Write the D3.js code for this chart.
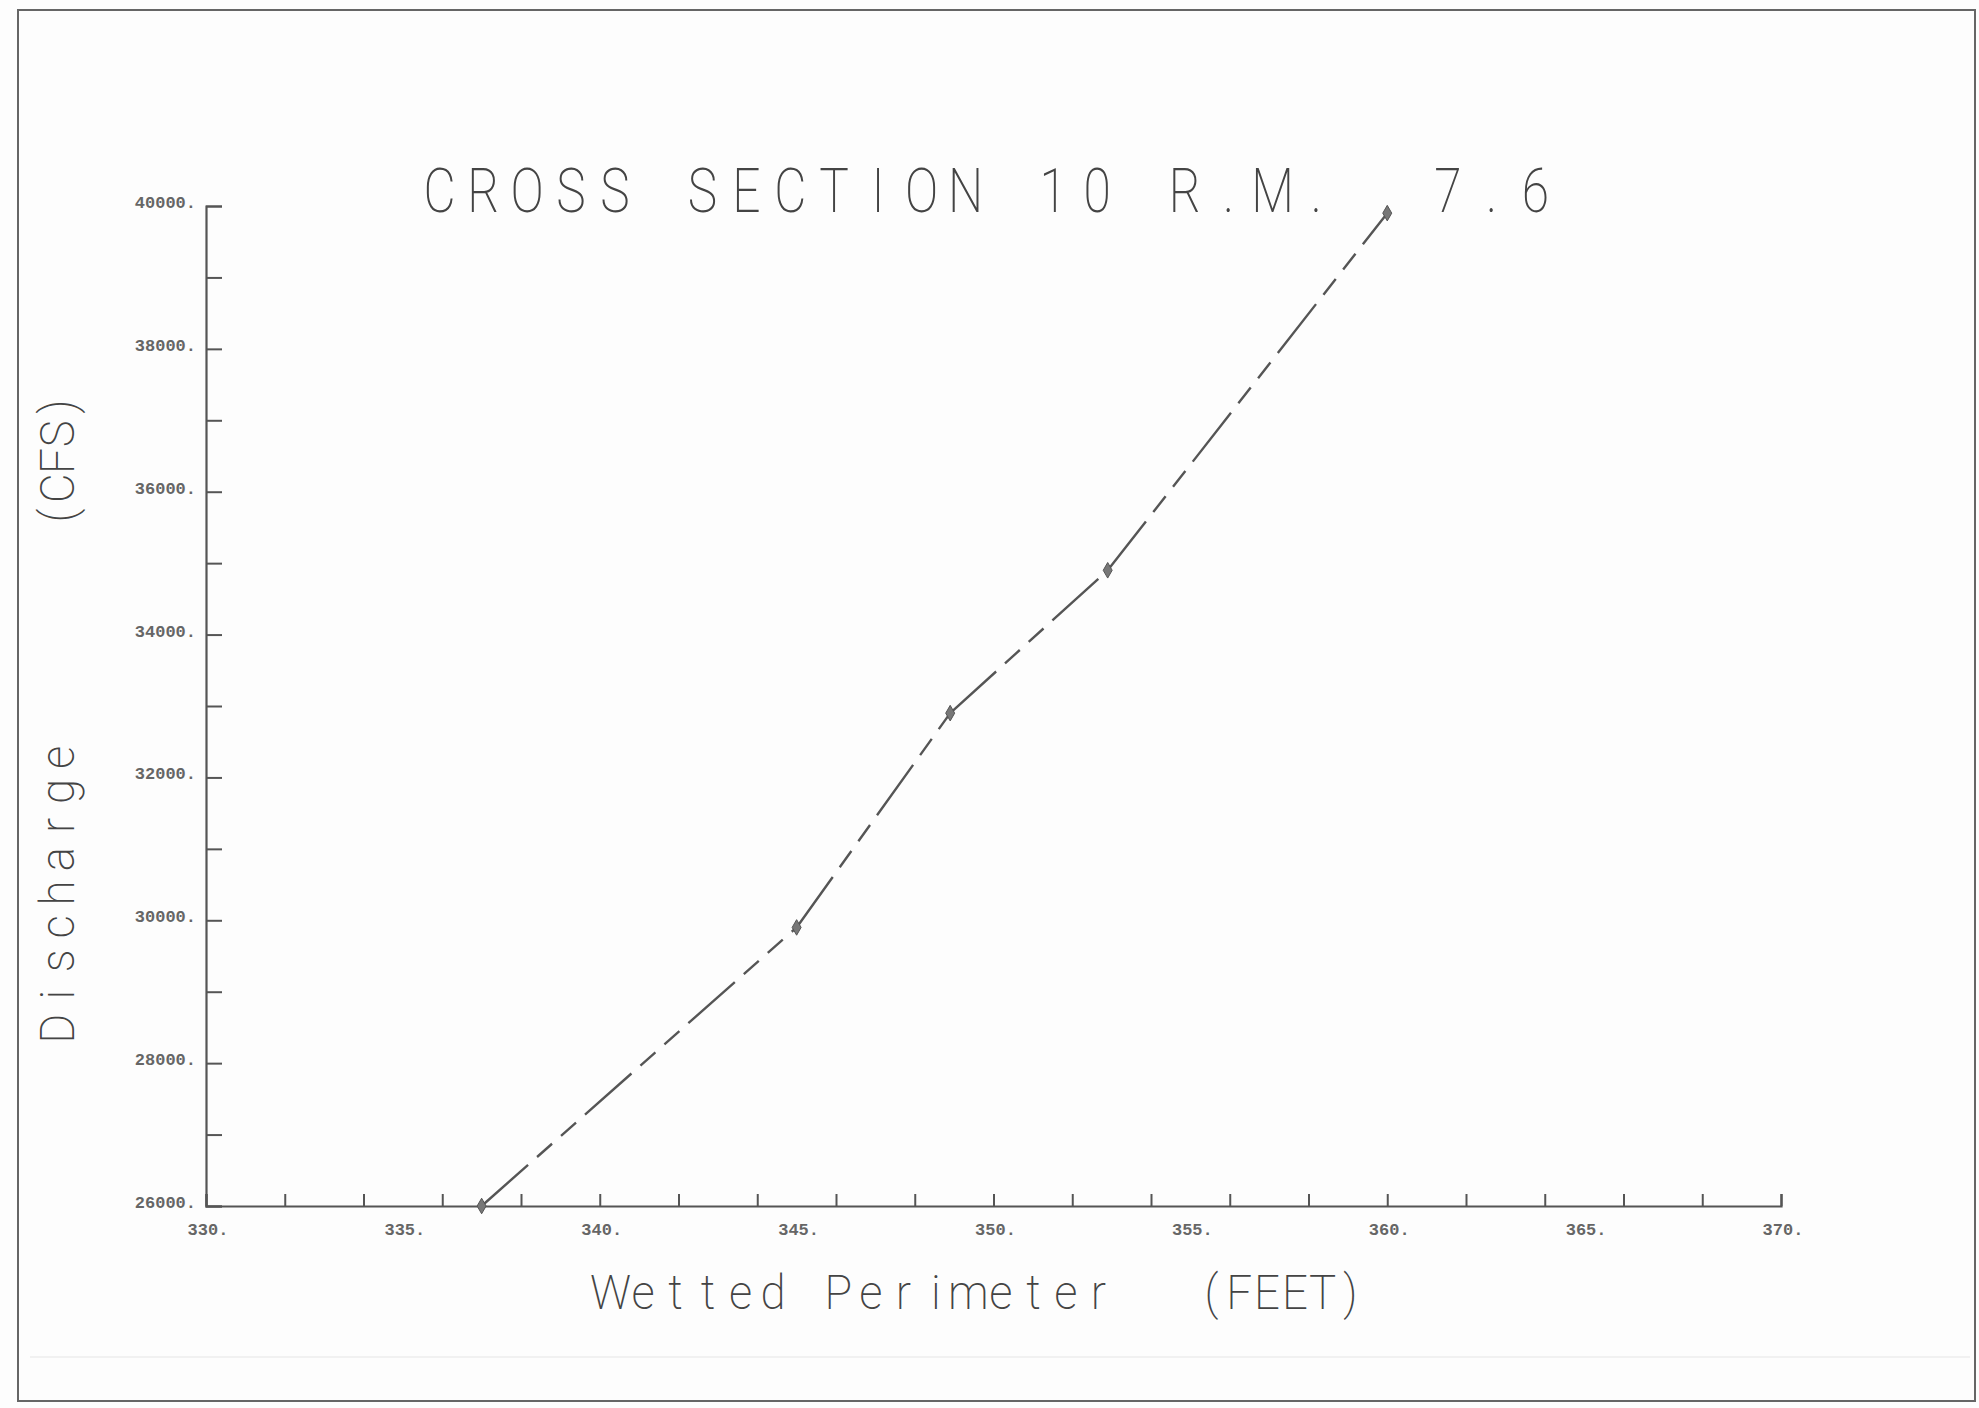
<!DOCTYPE html>
<html>
<head>
<meta charset="utf-8">
<script src="https://cdn.jsdelivr.net/npm/d3@7"></script>
<style>
  body { margin: 0; background: #fdfdfd; }
</style>
</head>
<body>
<div id="chart"></div>
<script>
const width = 1979;
const height = 1408;

// wetted perimeter (feet) vs discharge (cfs)
const perimeter = [337.0, 345.0, 348.9, 352.9, 360.0];
const discharge = [26000, 29900, 32900, 34900, 39900];

const xTicks = d3.range(330, 371, 2);
const xLabels = [330, 335, 340, 345, 350, 355, 360, 365, 370];
const yTicks = d3.range(26000, 40001, 1000);
const yLabels = [26000, 28000, 30000, 32000, 34000, 36000, 38000, 40000];

const ink = "#555";

const svg = d3.select("#chart")
  .append("svg")
    .attr("width", width)
    .attr("height", height);

// page frame of the scan
svg.append("rect")
  .attr("x", 18).attr("y", 10)
  .attr("width", 1957).attr("height", 1391)
  .attr("fill", "none")
  .attr("stroke", "#666")
  .attr("stroke-width", 2);

svg.append("line")
  .attr("x1", 30).attr("x2", 1970)
  .attr("y1", 1357).attr("y2", 1357)
  .attr("stroke", "#ececec")
  .attr("stroke-width", 1.5);

const x = d3.scaleLinear().domain([330, 370]).range([206, 1781]);
const y = d3.scaleLinear().domain([26000, 40000]).range([1206, 206]);

/* ----------------------- axes ----------------------- */
const xAxis = svg.append("g")
  .attr("transform", `translate(0,${y(26000)})`)
  .call(d3.axisBottom(x).tickValues(xTicks).tickSize(-12).tickFormat(""));

const yAxis = svg.append("g")
  .attr("transform", `translate(${x(330)},0)`)
  .call(d3.axisLeft(y).tickValues(yTicks).tickSize(-16).tickFormat(""));

[xAxis, yAxis].forEach(function(g) {
  g.select(".domain").attr("stroke", ink).attr("stroke-width", 2.2);
  g.selectAll(".tick line").attr("stroke", ink).attr("stroke-width", 2);
});

// tick labels (typewriter style)
svg.append("g").selectAll("text")
  .data(xLabels)
  .join("text")
    .attr("x", d => x(d) + 2)
    .attr("y", y(26000) + 29)
    .attr("text-anchor", "middle")
    .attr("font-family", "Liberation Mono, monospace")
    .attr("font-weight", "bold")
    .attr("font-size", 17)
    .attr("fill", "#666")
    .text(d => d + ".");

svg.append("g").selectAll("text")
  .data(yLabels)
  .join("text")
    .attr("x", x(330) - 10)
    .attr("y", d => y(d) + 2)
    .attr("text-anchor", "end")
    .attr("font-family", "Liberation Mono, monospace")
    .attr("font-weight", "bold")
    .attr("font-size", 17)
    .attr("fill", "#666")
    .text(d => d + ".");

/* ----------------------- titles ----------------------- */
// plotter lettering: thin strokes, fixed pitch, each char in its own cell
function monoText(g, str, x0, x1, base, size, cw, sx) {
  const chars = str.split("");
  const pitch = (x1 - x0 - cw) / (chars.length - 1);
  g.append("g").selectAll("text")
    .data(chars)
    .join("text")
      .attr("transform", (c, i) => `translate(${x0 + cw / 2 + i * pitch},${base}) scale(${sx},1)`)
      .attr("text-anchor", "middle")
      .attr("font-family", "Roboto, DejaVu Sans, sans-serif")
      .attr("font-weight", 200)
      .attr("font-size", size)
      .attr("fill", "#444")
      .text(c => c);
}

monoText(svg, "CROSS SECTION 10 R.M.  7.6", 423, 1552, 212, 62, 33, 0.8);

monoText(svg, "Wetted Perimeter", 598, 1111, 1309, 48, 25, 0.95);
monoText(svg, "(FEET)", 1199, 1363, 1309, 48, 25, 0.95);

const yl = svg.append("g").attr("transform", "translate(74,0) rotate(-90)");
monoText(yl, "Discharge", -1041, -745, 0, 48, 25, 0.95);
monoText(yl, "(CFS)", -528, -394, 0, 48, 25, 0.95);

/* ----------------------- data ----------------------- */
const pts = perimeter.map((p, i) => [p, discharge[i]]);

const line = d3.line()
  .x(d => x(d[0]))
  .y(d => y(d[1]));

// plotter restarts the dash pattern at every point
svg.append("g").selectAll("path")
  .data(d3.pairs(pts))
  .join("path")
    .attr("d", line)
    .attr("fill", "none")
    .attr("stroke", ink)
    .attr("stroke-width", 2.4)
    .attr("stroke-dasharray", "62,12,20,12,20,12");

svg.append("g").selectAll("path")
  .data(pts)
  .join("path")
    .attr("transform", d => `translate(${x(d[0])},${y(d[1])})`)
    .attr("d", d3.symbol(d3.symbolDiamond, 70))
    .attr("fill", "#777")
    .attr("stroke", "#555")
    .attr("stroke-width", 1);
</script>
</body>
</html>
